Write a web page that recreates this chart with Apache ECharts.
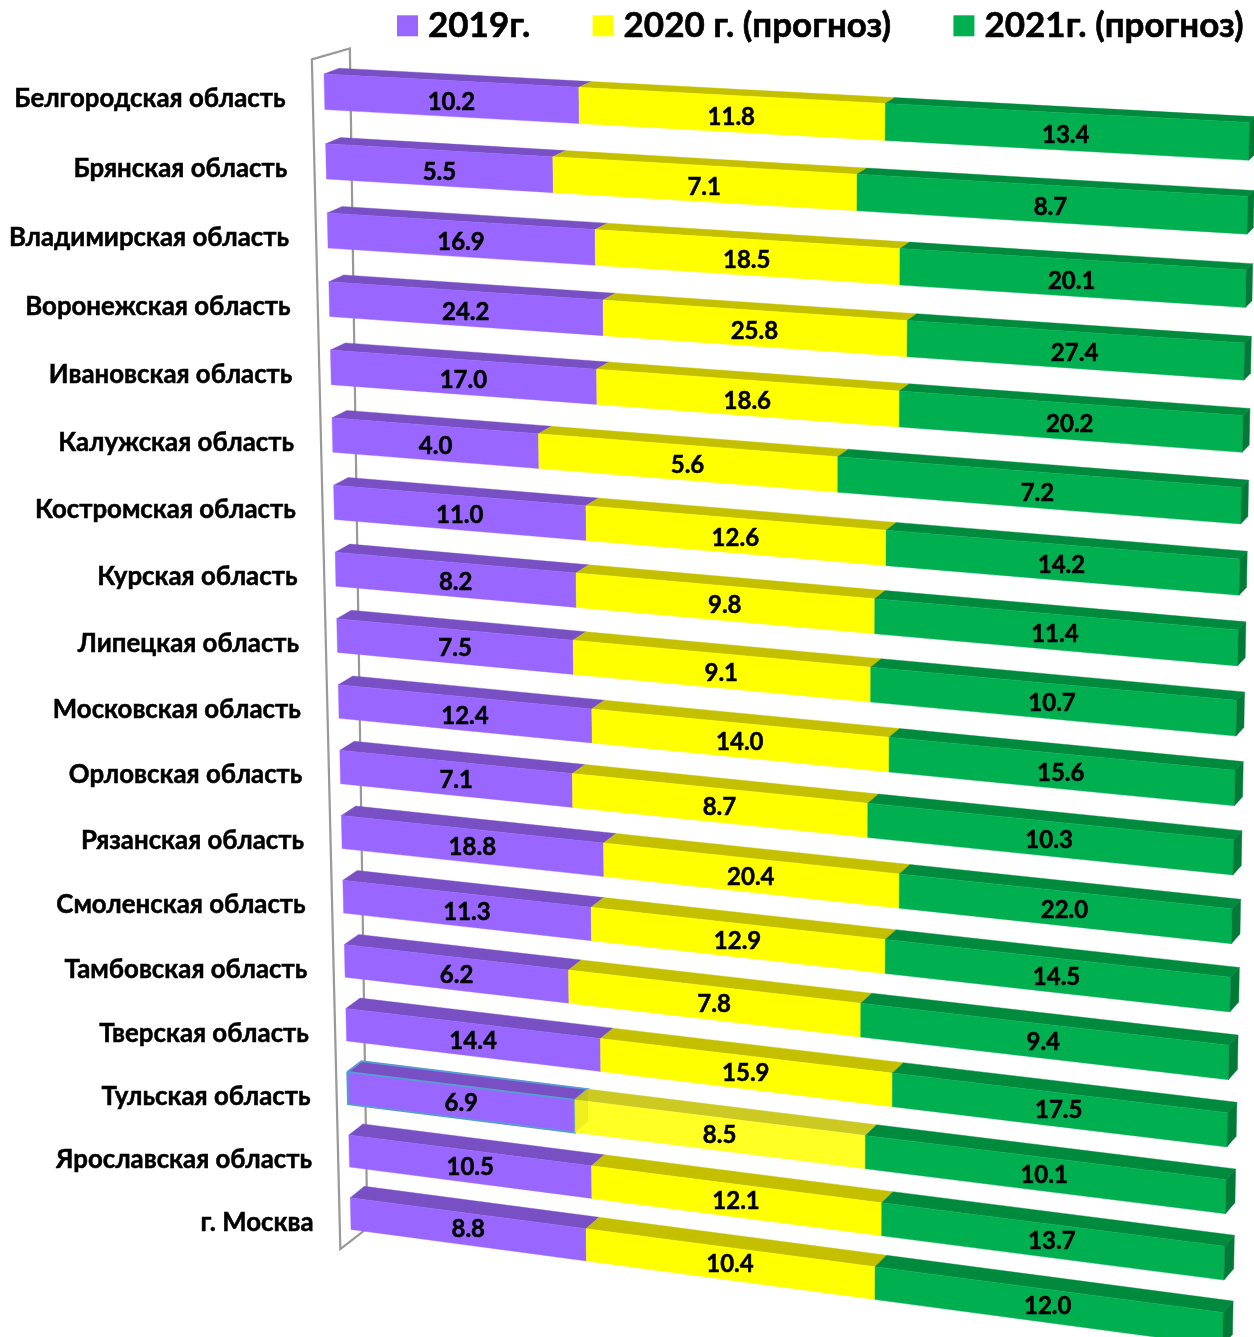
<!DOCTYPE html>
<html><head><meta charset="utf-8">
<style>html,body{margin:0;padding:0;background:#fff;overflow:hidden}#c{width:1254px;height:1337px}</style>
<script src="https://cdn.jsdelivr.net/npm/echarts@6/dist/echarts.min.js"></script>
</head><body><div id="c"></div>
<script>
const categories=["Белгородская область","Брянская область","Владимирская область","Воронежская область","Ивановская область","Калужская область","Костромская область","Курская область","Липецкая область","Московская область","Орловская область","Рязанская область","Смоленская область","Тамбовская область","Тверская область","Тульская область","Ярославская область","г. Москва"];
const y2019=[10.2,5.5,16.9,24.2,17.0,4.0,11.0,8.2,7.5,12.4,7.1,18.8,11.3,6.2,14.4,6.9,10.5,8.8];
const y2020=[11.8,7.1,18.5,25.8,18.6,5.6,12.6,9.8,9.1,14.0,8.7,20.4,12.9,7.8,15.9,8.5,12.1,10.4];
const y2021=[13.4,8.7,20.1,27.4,20.2,7.2,14.2,11.4,10.7,15.6,10.3,22.0,14.5,9.4,17.5,10.1,13.7,12.0];
const seriesNames=["2019г.","2020 г. (прогноз)","2021г. (прогноз)"];
const seriesValues=[y2019,y2020,y2021];
const FONT='Lato, "Open Sans", sans-serif';
const selectedRow=15;
const H=0.51;
const palette=[
 {front:'#9966FF',top:'#7850C4'},
 {front:'#FFFF00',top:'#C4C000',selFront:'#FFFF24',selTop:'#CCCA22'},
 {front:'#00B050',top:'#008A3E',side:'#007A36'}
];
// perspective projection of the plot plane
const C=[[324,74],[1249.5,122.5],[1222.5,1346],[351,1229.5]];
const hm=(()=>{const [p0,p1,p2,p3]=C;
 const dx1=p1[0]-p2[0],dx2=p3[0]-p2[0],sx=p0[0]-p1[0]+p2[0]-p3[0];
 const dy1=p1[1]-p2[1],dy2=p3[1]-p2[1],sy=p0[1]-p1[1]+p2[1]-p3[1];
 const den=dx1*dy2-dx2*dy1,g=(sx*dy2-dx2*sy)/den,h=(dx1*sy-sx*dy1)/den;
 return {a:p1[0]-p0[0]+g*p1[0],b:p3[0]-p0[0]+h*p3[0],c:p0[0],d:p1[1]-p0[1]+g*p1[1],e:p3[1]-p0[1]+h*p3[1],f:p0[1],g,h};})();
const N=categories.length, WMAX=N-1+H;
function proj(u,v){const w=v/WMAX,q=hm.g*u+hm.h*w+1;return [(hm.a*u+hm.b*w+hm.c)/q,(hm.d*u+hm.e*w+hm.f)/q];}
function depth(u,v){const w=v/WMAX;const t=15-9*u,b=14-4*u;return [t+(b-t)*w,-5.8+(-11.6+5.8)*w];}
function back(u,v){const p=proj(u,v),d=depth(u,v);return [p[0]+d[0],p[1]+d[1]];}
// axis-driven conversion: pixels from the ECharts scales -> plot plane
function uv(params,api,pct,row){const c=api.coord([pct,row]),band=api.size([0,1])[1],cs=params.coordSys;
 return [(c[0]-cs.x)/cs.width,(c[1]-cs.y)/band-0.5];}
const poly=(pts,fill,extra)=>({type:'polygon',shape:{points:pts},style:Object.assign({fill:fill,stroke:fill,lineWidth:0.4},extra||{})});

function barRender(si){return function(params,api){
 const row=api.value(2),val=api.value(3);
 const [u0,v]=uv(params,api,api.value(0),row),[u1]=uv(params,api,api.value(1),row);
 const pal=palette[si],sel=row===selectedRow;
 const tl=proj(u0,v),tr=proj(u1,v),br=proj(u1,v+H),bl=proj(u0,v+H);
 const btl=back(u0,v),btr=back(u1,v),bbr=back(u1,v+H);
 let front=pal.front,top=pal.top;
 if(sel&&si===1){front=pal.selFront;top=pal.selTop;}
 const kids=[];
 kids.push(poly([tl,tr,btr,btl],top));
 kids.push(poly([tl,tr,br,bl],front));
 if(si===2)kids.push(poly([tr,btr,bbr,br],pal.side));
 if(sel&&si===1){const b0=back(u0,v),b1=back(u0,v+H);
  kids.push(poly([tl,bl,b1,b0],'rgba(150,140,0,0.14)',{stroke:'none'}));}
 if(sel&&si===0){const o={fill:'none',stroke:'#5B9BD5',lineWidth:2};
  kids.push({type:'polyline',shape:{points:[tl,tr,br,bl,tl]},style:o});
  kids.push({type:'polyline',shape:{points:[tl,btl,btr,tr]},style:o});}
 const m=proj((u0+u1)/2,v+H/2);
 kids.push({type:'text',z2:10,style:{x:m[0]+0.8,y:m[1]+4-3.5*v/(N-1),text:val.toFixed(1),fill:'#000',stroke:'#000',lineWidth:0.5,font:'bold 24px '+FONT,align:'center',verticalAlign:'middle'}});
 return {type:'group',children:kids};
};}
const barSeries=seriesNames.map((name,si)=>({
 name,type:'custom',coordinateSystem:'cartesian2d',clip:false,silent:true,z:3,
 itemStyle:{color:palette[si].front},
 encode:{x:[0,1],y:2},
 data:categories.map((c,i)=>{
  const tot=y2019[i]+y2020[i]+y2021[i];
  let s=0;for(let k=0;k<si;k++)s+=seriesValues[k][i];
  return [s/tot*100,(s+seriesValues[si][i])/tot*100,i,seriesValues[si][i]];
 }),
 renderItem:barRender(si)
}));
const wallSeries={name:'wall',type:'custom',coordinateSystem:'cartesian2d',clip:false,silent:true,z:1,
 encode:{x:0,y:1},data:[[0,0]],
 renderItem(params,api){
  const U=-0.0136,vTop=-0.2,vBot=N-1+H+0.34;
  const a=proj(U,vTop),b=proj(U,vBot);
  const a2=[a[0]+38,a[1]-11],b2=[b[0]+27,b[1]-21];
  return {type:'group',children:[{type:'polyline',shape:{points:[b2,b,a,a2,b2]},style:{fill:'none',stroke:'#999999',lineWidth:2.2}}]};
 }};
const labelSeries={name:'labels',type:'custom',coordinateSystem:'cartesian2d',clip:false,silent:true,z:2,
 encode:{x:0,y:1},data:categories.map((c,i)=>[0,i]),
 renderItem(params,api){
  const i=api.value(1);const [u,v]=uv(params,api,0,i);
  const p=proj(-0.0425,v+H/2+0.17);
  return {type:'text',style:{x:p[0]-2.5,y:p[1]-3+6*v/(N-1),text:categories[i],fill:'#000',stroke:'#000',lineWidth:0.5,font:'bold 25.8px '+FONT,align:'right',verticalAlign:'middle'}};
 }};
const chart=echarts.init(document.getElementById('c'),null,{renderer:'canvas',width:1254,height:1337});
chart.setOption({
 animation:false,backgroundColor:'#fff',
 legend:{data:seriesNames,left:392,top:3,icon:'rect',itemWidth:21,itemHeight:21,itemGap:62,selectedMode:false,
  textStyle:{fontFamily:FONT,fontWeight:'bold',fontSize:35,color:'#000',textBorderColor:'#000',textBorderWidth:0.6,padding:[0,0,0,5]}},
 grid:{left:100,top:100,width:900,height:900},
 xAxis:{type:'value',min:0,max:100,show:false},
 yAxis:{type:'category',data:categories,inverse:true,show:false},
 series:[wallSeries,labelSeries,...barSeries]
});
</script></body></html>
